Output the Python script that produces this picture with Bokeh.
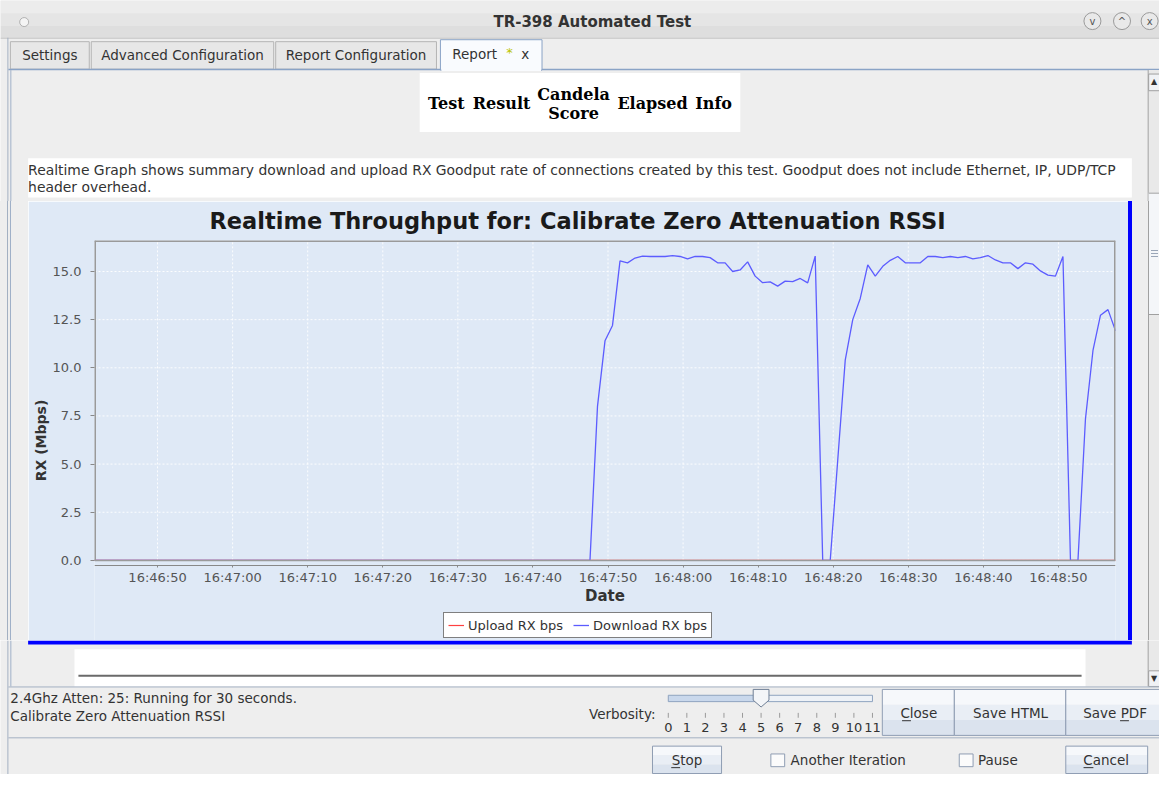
import pandas as pd
from bokeh.plotting import figure
from bokeh.layouts import column, row
from bokeh.models import (Range1d, FixedTicker, DatetimeTickFormatter, NumeralTickFormatter,
                          Legend, LegendItem, ColumnDataSource, Div)
from bokeh.core.properties import value
from bokeh.embed import file_html
from bokeh.resources import INLINE

# ---------------- data ----------------
SAMPLE_DATE = "2021-01-01"
SAMPLE_START = "2021-01-01 16:46:41.6"   # first sample, one sample per second
CHART_TITLE = "Realtime Throughput for: Calibrate Zero Attenuation RSSI"
series_names = ["Upload RX bps", "Download RX bps"]

download_mbps = [
    0.0, 0.0, 0.0, 0.0, 0.0, 0.0, 0.0, 0.0, 0.0, 0.0, 0.0,
    0.0, 0.0, 0.0, 0.0, 0.0, 0.0, 0.0, 0.0, 0.0, 0.0, 0.0,
    0.0, 0.0, 0.0, 0.0, 0.0, 0.0, 0.0, 0.0, 0.0, 0.0, 0.0,
    0.0, 0.0, 0.0, 0.0, 0.0, 0.0, 0.0, 0.0, 0.0, 0.0, 0.0,
    0.0, 0.0, 0.0, 0.0, 0.0, 0.0, 0.0, 0.0, 0.0, 0.0, 0.0,
    0.0, 0.0, 0.0, 0.0, 0.0, 0.0, 0.0, 0.0, 0.0, 0.0, 0.0,
    0.0, 8.0, 11.4, 12.2, 15.55, 15.45, 15.7, 15.8, 15.78, 15.78,
    15.78, 15.82, 15.78, 15.66, 15.78, 15.78, 15.72, 15.45, 15.45, 15.0,
    15.08, 15.5, 14.76, 14.42, 14.46, 14.24, 14.5, 14.47, 14.64, 14.41,
    15.8, 0.0, 0.0, 5.2, 10.4, 12.5, 13.6, 15.34, 14.76, 15.27,
    15.58, 15.78, 15.45, 15.45, 15.45, 15.78, 15.78, 15.72, 15.78, 15.72,
    15.78, 15.66, 15.72, 15.83, 15.6, 15.45, 15.45, 15.15, 15.45, 15.38,
    15.03, 14.81, 14.76, 15.78, 0.0, 0.0, 7.35, 10.9, 12.73, 13.02,
    11.92,
]

upload_mbps = [
    0.0, 0.0, 0.0, 0.0, 0.0, 0.0, 0.0, 0.0, 0.0, 0.0, 0.0,
    0.0, 0.0, 0.0, 0.0, 0.0, 0.0, 0.0, 0.0, 0.0, 0.0, 0.0,
    0.0, 0.0, 0.0, 0.0, 0.0, 0.0, 0.0, 0.0, 0.0, 0.0, 0.0,
    0.0, 0.0, 0.0, 0.0, 0.0, 0.0, 0.0, 0.0, 0.0, 0.0, 0.0,
    0.0, 0.0, 0.0, 0.0, 0.0, 0.0, 0.0, 0.0, 0.0, 0.0, 0.0,
    0.0, 0.0, 0.0, 0.0, 0.0, 0.0, 0.0, 0.0, 0.0, 0.0, 0.0,
    0.0, 0.0, 0.0, 0.0, 0.0, 0.0, 0.0, 0.0, 0.0, 0.0,
    0.0, 0.0, 0.0, 0.0, 0.0, 0.0, 0.0, 0.0, 0.0, 0.0,
    0.0, 0.0, 0.0, 0.0, 0.0, 0.0, 0.0, 0.0, 0.0, 0.0,
    0.0, 0.0, 0.0, 0.0, 0.0, 0.0, 0.0, 0.0, 0.0, 0.0,
    0.0, 0.0, 0.0, 0.0, 0.0, 0.0, 0.0, 0.0, 0.0, 0.0,
    0.0, 0.0, 0.0, 0.0, 0.0, 0.0, 0.0, 0.0, 0.0, 0.0,
    0.0, 0.0, 0.0, 0.0, 0.0, 0.0, 0.0, 0.0, 0.0, 0.0,
    0.0,
]

x_tick_labels = ["16:46:50", "16:47:00", "16:47:10", "16:47:20", "16:47:30", "16:47:40",
                 "16:47:50", "16:48:00", "16:48:10", "16:48:20", "16:48:30", "16:48:40",
                 "16:48:50"]
y_ticks = [0.0, 2.5, 5.0, 7.5, 10.0, 12.5, 15.0]
Y_MAX = 16.61          # top of the plot box
Y_PANEL_MIN = -4.16    # lower edge of the chart panel (room for date axis and legend)
X_AXIS_AT = -0.24      # date axis drawn just below the plot box

tab_labels = ["Settings", "Advanced Configuration", "Report Configuration"]
header_cols = ["Test", "Result", "Candela", "Elapsed", "Info"]
verbosity_levels = ["0", "1", "2", "3", "4", "5", "6", "7", "8", "9", "10", "11"]
verbosity_value = 5

# ---------------- styles ----------------
BG = "#eeeeee"
PANEL = "#dfe9f6"
FONT = "DejaVu Sans"
TXT = "#333333"
UI = "13.5px"
EDGE = "#a3b0c2"


def chrome(x0, x1, y0, y1, w, h):
    f = figure(width=w, height=h, x_range=Range1d(x0, x1), y_range=Range1d(y1, y0),
               x_axis_location=None, y_axis_location=None, output_backend="svg",
               toolbar_location=None, min_border=0, background_fill_color=BG,
               border_fill_color=BG, outline_line_color=None)
    f.xgrid.visible = False
    f.ygrid.visible = False
    return f


def txt(f, x, y, s, size=UI, color=TXT, align="left", bold=False, font=FONT):
    f.text(x=[x], y=[y], text=[s], text_font=value(font), text_font_size=value(size),
           text_color=color, text_align=align, text_baseline="middle",
           text_font_style="bold" if bold else "normal")


def box(f, l, r, t, b, fill, line=None, lw=1):
    f.quad(left=[l], right=[r], top=[t], bottom=[b], fill_color=fill,
           line_color=line, line_width=lw)


def hline(f, x0, x1, y, color=EDGE, w=1):
    f.segment(x0=[x0], x1=[x1], y0=[y], y1=[y], line_color=color, line_width=w)


def vline(f, x, y0, y1, color=EDGE, w=1):
    f.segment(x0=[x], x1=[x], y0=[y0], y1=[y1], line_color=color, line_width=w)


def button(f, l, r, t, b, label, cx, cy, ul=None):
    h = (b - t) / 3.0
    box(f, l, r, t, t + h, "#f6f8fb")
    box(f, l, r, t + h, t + 2 * h, "#e9eef5")
    box(f, l, r, t + 2 * h, b, "#dbe3ee")
    box(f, l, r, t, b, None, "#8f9db3", 1)
    txt(f, cx, cy, label, align="center")
    if ul:
        hline(f, ul[0], ul[1], cy + 8, TXT)


def scrollbar(f, y0, y1):
    box(f, 1164, 1175, y0, y1, "#e9e9e9")
    vline(f, 1163.5, y0, y1, "#a0a0a0")


def strip(w, h, parts):
    inner = "".join(
        f'<div style="position:absolute;left:{l}px;top:{t}px;width:{ww}px;height:{hh}px;'
        f'background:{c}"></div>' for (l, t, ww, hh, c) in parts)
    return Div(text=f'<div style="position:relative;width:{w}px;height:{h}px;'
                    f'background:{BG};overflow:hidden">{inner}</div>',
               width=w, height=h, margin=0)


# ---------------- top chrome (window rows 0..205) ----------------
top = chrome(0, 1175, 0, 205, 1159, 201)
box(top, 0, 1175, 0, 13, "#ececec")
box(top, 0, 1175, 13, 26, "#e5e5e5")
box(top, 0, 1175, 26, 39, "#dedede")
hline(top, 0, 1175, 38.5, "#c8c8c8")
top.scatter(x=[24], y=[22], size=9, fill_color="#f4f4f4", line_color="#b0b0b0")
txt(top, 600, 22, "TR-398 Automated Test", size="15px", bold=True, align="center")
for cx, s in [(1107, "v"), (1137, "^"), (1165, "x")]:
    top.scatter(x=[cx], y=[21], size=17, fill_color="#e9e9e9", line_color="#9a9a9a")
    txt(top, cx, 21, s, size="10px", align="center", color="#555555")

vline(top, 7.5, 38, 205)
tab_bounds = [(10, 90), (92, 277), (279, 442)]
for (l, r), lab in zip(tab_bounds, tab_labels):
    box(top, l, r, 42, 70, "#e7e7e7", "#b4b4b4")
    txt(top, (l + r) / 2, 56, lab, align="center")
hline(top, 8, 1175, 70.5, "#8aa3c6", 1.5)
box(top, 446, 549, 40, 71, "#f9fbfe", "#8aa3c6")
box(top, 447, 548, 69, 72, "#f9fbfe")
txt(top, 458, 55, "Report")
txt(top, 516, 53, "*", size="13px", color="#b9c400", align="center")
txt(top, 532, 55, "x", align="center")

box(top, 425, 750, 74, 134, "white")
for cx, lab in zip([452, 508, 581, 661, 723], header_cols):
    if lab == "Candela":
        txt(top, cx, 96, "Candela", size="16px", bold=True, align="center",
            font="DejaVu Serif", color="black")
        txt(top, cx, 115, "Score", size="16px", bold=True, align="center",
            font="DejaVu Serif", color="black")
    else:
        txt(top, cx, 105, lab, size="16px", bold=True, align="center",
            font="DejaVu Serif", color="black")

box(top, 28, 1147, 161, 201, "white")
txt(top, 28, 173, "Realtime Graph shows summary download and upload RX Goodput rate of connections "
    "created by this test. Goodput does not include Ethernet, IP, UDP/TCP", size="13.9px")
txt(top, 28, 190, "header overhead.", size="13.9px")
vline(top, 10.5, 71, 205, "#9fb0c8")
scrollbar(top, 71, 205)
box(top, 1164, 1175, 75, 92, "#f0f2f5", "#a0a0a0")
txt(top, 1169.5, 83, "\u25b2", size="8px", align="center", color="#333333")
box(top, 1164, 1175, 196, 205, "#f4f6f9")
hline(top, 1164, 1175, 196.5, "#a0a0a0")

# ---------------- chart (window rows 205..653, cols 28..1143) ----------------
times = pd.date_range(SAMPLE_START, periods=len(download_mbps), freq="1s")
t0, t1 = times[0], times[-1]
tick_ms = [pd.Timestamp(f"{SAMPLE_DATE} {s}").value // 10**6 for s in x_tick_labels]
src = ColumnDataSource(dict(t=times, up=upload_mbps, down=download_mbps))

p = figure(width=1100, height=439, x_axis_type="datetime",
           x_range=Range1d(t0, t1), y_range=Range1d(Y_PANEL_MIN, Y_MAX),
           output_backend="svg", toolbar_location=None,
           min_border_left=66, min_border_right=13, min_border_top=39, min_border_bottom=0,
           background_fill_color=PANEL, border_fill_color=PANEL)
p.outline_line_color = None
p.grid.visible = False

p.title.text = CHART_TITLE
p.title.text_font = FONT
p.title.text_font_size = "22.5px"
p.title.text_font_style = "bold"
p.title.text_color = "#1a1a1a"
p.title.align = "left"
p.title.offset = 115
p.title.vertical_align = "top"
p.title.standoff = 10

p.xaxis.ticker = FixedTicker(ticks=tick_ms, minor_ticks=[])
fmt = "%H:%M:%S"
p.xaxis.formatter = DatetimeTickFormatter(milliseconds=fmt, seconds=fmt, minsec=fmt,
                                          minutes=fmt, hourmin=fmt, hours=fmt)
p.xaxis.fixed_location = X_AXIS_AT
p.yaxis.ticker = FixedTicker(ticks=y_ticks, minor_ticks=[])
p.yaxis.formatter = NumeralTickFormatter(format="0.0")
p.yaxis.bounds = (0, Y_MAX)
p.xaxis.axis_label = "Date"
p.yaxis.axis_label = "RX (Mbps)"
for ax in (p.xaxis, p.yaxis):
    ax.axis_line_color = "#888888"
    ax.axis_line_width = 1.2
    ax.major_tick_line_color = "#888888"
    ax.major_tick_in = 0
    ax.minor_tick_line_color = None
    ax.major_label_text_font = FONT
    ax.major_label_text_font_size = "13px"
    ax.major_label_text_color = "#555555"
    ax.axis_label_text_font = FONT
    ax.axis_label_text_font_style = "bold"
    ax.axis_label_text_color = "#333333"
p.yaxis.axis_line_color = None
p.xaxis.major_tick_out = 2
p.yaxis.major_tick_out = 4
p.xaxis.major_label_standoff = 3
p.yaxis.major_label_standoff = 9
p.xaxis.axis_label_text_font_size = "15px"
p.yaxis.axis_label_text_font_size = "14px"
p.xaxis.axis_label_standoff = -2
p.yaxis.axis_label_standoff = 1

# dashed white grid inside the plot box
grid_style = dict(line_color="white", line_dash="2 2", line_alpha=0.9, line_width=1)
p.segment(x0=tick_ms, x1=tick_ms, y0=[0] * len(tick_ms), y1=[Y_MAX] * len(tick_ms), **grid_style)
p.segment(x0=[t0] * len(y_ticks), x1=[t1] * len(y_ticks), y0=y_ticks, y1=y_ticks, **grid_style)

r_up = p.line("t", "up", source=src, line_color="#ff4040", line_width=1.2)
r_down = p.line("t", "down", source=src, line_color="#5c5cff", line_width=1.3)

# plot box outline (drawn over the series, as in the original)
p.segment(x0=[t0, t1, t0, t0], x1=[t1, t1, t0, t1], y0=[Y_MAX, Y_MAX, Y_MAX, 0],
          y1=[Y_MAX, 0, 0, 0], line_color="#9a9a9a", line_width=[3, 3, 3, 1.5])

legend = Legend(items=[LegendItem(label=series_names[0], renderers=[r_up]),
                       LegendItem(label=series_names[1], renderers=[r_down])],
                orientation="horizontal", location=(349, 2))
legend.border_line_color = "black"
legend.border_line_width = 1
legend.background_fill_color = "white"
legend.background_fill_alpha = 1
legend.label_text_font = FONT
legend.label_text_font_size = "13px"
legend.label_text_color = "#333333"
legend.glyph_width = 16
legend.glyph_height = 16
legend.label_height = 16
legend.label_standoff = 4
legend.spacing = 10
legend.padding = 4
legend.margin = 0
p.add_layout(legend)

# ---------------- side strips (window cols 0..28 and 1143..1175) ----------------
left = strip(28, 439, [(7, 0, 1, 439, EDGE), (10, 0, 1, 439, "#9fb0c8")])
right = strip(31, 439, [(0, 0, 4, 439, "#0000ff"),
                        (20, 0, 1, 439, "#a0a0a0"),
                        (21, 0, 10, 439, "#e9e9e9"),
                        (21, 0, 10, 113, "#f4f6f9"),
                        (21, 113, 10, 1, "#a0a0a0"),
                        (23, 49, 7, 1, "#9aa6b8"),
                        (23, 52, 7, 1, "#9aa6b8"),
                        (23, 55, 7, 1, "#9aa6b8")])

# ---------------- bottom chrome (window rows 653..790) ----------------
bot = chrome(0, 1175, 653, 790, 1159, 134)
box(bot, 28, 1147, 653, 657, "#0000ff")
vline(bot, 10.5, 653, 700, "#9fb0c8")
box(bot, 75, 1100, 662, 700, "white")
hline(bot, 79, 1096, 689, "#6a6a6a", 2)
scrollbar(bot, 653, 700)
box(bot, 1164, 1175, 684, 700, "#f0f2f5", "#a0a0a0")
txt(bot, 1169.5, 692, "\u25bc", size="8px", align="center", color="#333333")

vline(bot, 7.5, 653, 790)
hline(bot, 8, 1175, 700.5)
hline(bot, 8, 1175, 752.5)
txt(bot, 10, 712, "2.4Ghz Atten: 25: Running for 30 seconds.")
txt(bot, 10, 730, "Calibrate Zero Attenuation RSSI")

txt(bot, 664, 728, "Verbosity:", align="right")
n_lv = len(verbosity_levels)
x_first, x_last = 677, 884
step = (x_last - x_first) / (n_lv - 1)
thumb_x = x_first + verbosity_value * step
box(bot, x_first, thumb_x, 709, 715.5, "#c9d8ec", None)
box(bot, thumb_x, x_last, 709, 715.5, "#eef2f7", None)
box(bot, x_first, x_last, 709, 715.5, None, "#8ea3bf")
for i, lab in enumerate(verbosity_levels):
    xx = x_first + i * step
    vline(bot, xx, 727, 732, "#9a9a9a")
    txt(bot, xx, 742, lab, size="13px", align="center")
bot.patch(x=[thumb_x - 8, thumb_x + 8, thumb_x + 8, thumb_x, thumb_x - 8],
          y=[703, 703, 714, 721, 714], fill_color="#f3f5f8", line_color="#6f7f95")

button(bot, 894, 967, 703, 750, "Close", 931, 727, ul=(914, 923))
button(bot, 967, 1080, 703, 750, "Save HTML", 1024, 727)
button(bot, 1080, 1178, 703, 750, "Save PDF", 1130, 727, ul=(1135, 1144))

button(bot, 661, 731, 761, 789, "Stop", 696, 775, ul=(680, 689))
box(bot, 781, 795, 769, 782, "#fbfbfb", "#8f9db3")
txt(bot, 801, 775, "Another Iteration")
box(bot, 972, 986, 769, 782, "#fbfbfb", "#8f9db3")
txt(bot, 991, 775, "Pause")
button(bot, 1080, 1163, 761, 789, "Cancel", 1121, 775, ul=(1098, 1108))

layout = column(top, row(left, p, right), bot)
open("out.html", "w").write(file_html(layout, INLINE))
